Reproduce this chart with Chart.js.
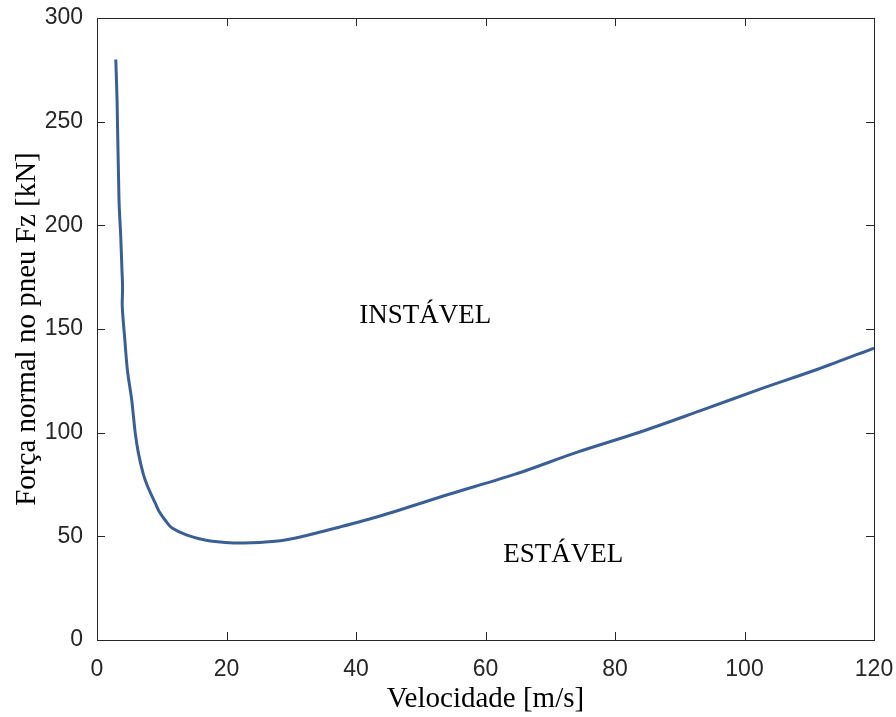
<!DOCTYPE html>
<html>
<head>
<meta charset="utf-8">
<script src="https://cdn.jsdelivr.net/npm/chart.js@4.4.0/dist/chart.umd.min.js"></script>
<style>
  html, body { margin: 0; padding: 0; background: #fff; }
  #wrap { width: 896px; height: 717px; }
</style>
</head>
<body>
<div id="wrap"><canvas id="chart" width="896" height="717"></canvas></div>
<script>
// velocidade [m/s] e força normal [kN]
const velocidade = [2.9, 3.1, 3.4, 3.66, 3.86, 3.95, 3.9, 4.3, 4.7, 5.36, 5.9, 6.4, 7.15, 7.7, 8.4, 9.0, 9.6, 10.6, 11.6, 13.9, 17.5, 22.5, 27.5, 31.4, 37.5, 43.7, 54.5, 64.6, 74.3, 83.9, 93.1, 102.4, 111.4, 120];
const forcaNormal = [280, 260, 212, 195, 178, 170, 161, 144.7, 130, 115.8, 100, 90, 80, 75, 70, 66, 62, 57.5, 54, 50.6, 47.8, 46.8, 47.6, 49.7, 54.5, 59.8, 70.4, 80, 90.7, 100.3, 110.5, 121, 130.7, 140.8];

const ticksX = [0, 20, 40, 60, 80, 100, 120];
const ticksY = [0, 50, 100, 150, 200, 250, 300];

const rotulos = [
  { texto: 'INSTÁVEL', x: 50.7, y: 156.5 },
  { texto: 'ESTÁVEL', x: 72.0, y: 41.0 }
];

const corEixo = '#262626';

// caixa, ticks para dentro e textos das regiões
const caixaPlugin = {
  id: 'caixa',
  afterDraw(chart) {
    const { ctx, chartArea: a, scales: { x, y } } = chart;
    ctx.save();
    ctx.strokeStyle = corEixo;
    ctx.lineWidth = 1;
    ctx.strokeRect(a.left + 0.5, a.top + 0.5, a.right - a.left, a.bottom - a.top);
    const len = 8;
    ctx.beginPath();
    ticksX.forEach(v => {
      const px = Math.round(x.getPixelForValue(v)) + 0.5;
      ctx.moveTo(px, a.bottom); ctx.lineTo(px, a.bottom - len);
      ctx.moveTo(px, a.top); ctx.lineTo(px, a.top + len);
    });
    ticksY.forEach(v => {
      const py = Math.round(y.getPixelForValue(v)) + 0.5;
      ctx.moveTo(a.left, py); ctx.lineTo(a.left + len, py);
      ctx.moveTo(a.right, py); ctx.lineTo(a.right - len, py);
    });
    ctx.stroke();

    ctx.fillStyle = '#000';
    ctx.font = '27px "Liberation Serif", "Times New Roman", serif';
    ctx.textAlign = 'center';
    ctx.textBaseline = 'middle';
    rotulos.forEach(r => {
      ctx.fillText(r.texto, x.getPixelForValue(r.x), y.getPixelForValue(r.y));
    });
    ctx.restore();
  }
};

const ctx = document.getElementById('chart').getContext('2d');

new Chart(ctx, {
  type: 'line',
  data: {
    datasets: [{
      data: velocidade.map((v, i) => ({ x: v, y: forcaNormal[i] })),
      borderColor: '#3a5f95',
      borderWidth: 3,
      pointRadius: 0,
      tension: 0.3,
      fill: false
    }]
  },
  options: {
    responsive: false,
    animation: false,
    layout: { padding: { top: 18, right: 22, left: 0, bottom: 0 } },
    plugins: {
      legend: { display: false },
      tooltip: { enabled: false }
    },
    scales: {
      x: {
        type: 'linear',
        min: 0,
        max: 120,
        afterFit(s) { s.height = 77; s.paddingLeft = 0; s.paddingRight = 0; },
        afterBuildTicks(s) { s.ticks = ticksX.map(v => ({ value: v })); },
        grid: { display: false, drawTicks: false },
        border: { display: false },
        ticks: {
          padding: 16,
          color: corEixo,
          font: { family: '"Liberation Sans", Arial, sans-serif', size: 23 }
        },
        title: {
          display: true,
          text: 'Velocidade [m/s]',
          color: '#000',
          padding: { top: 0, bottom: 0 },
          font: { family: '"Liberation Serif", "Times New Roman", serif', size: 29 }
        }
      },
      y: {
        type: 'linear',
        min: 0,
        max: 300,
        afterFit(s) { s.width = 97; s.paddingTop = 0; s.paddingBottom = 0; },
        afterBuildTicks(s) { s.ticks = ticksY.map(v => ({ value: v })); },
        grid: { display: false, drawTicks: false },
        border: { display: false },
        ticks: {
          padding: 14,
          color: corEixo,
          font: { family: '"Liberation Sans", Arial, sans-serif', size: 23 }
        },
        title: {
          display: true,
          text: 'Força normal no pneu Fz [kN]',
          color: '#000',
          padding: { top: 10, bottom: 0 },
          font: { family: '"Liberation Serif", "Times New Roman", serif', size: 29 }
        }
      }
    }
  },
  plugins: [caixaPlugin]
});
</script>
</body>
</html>
